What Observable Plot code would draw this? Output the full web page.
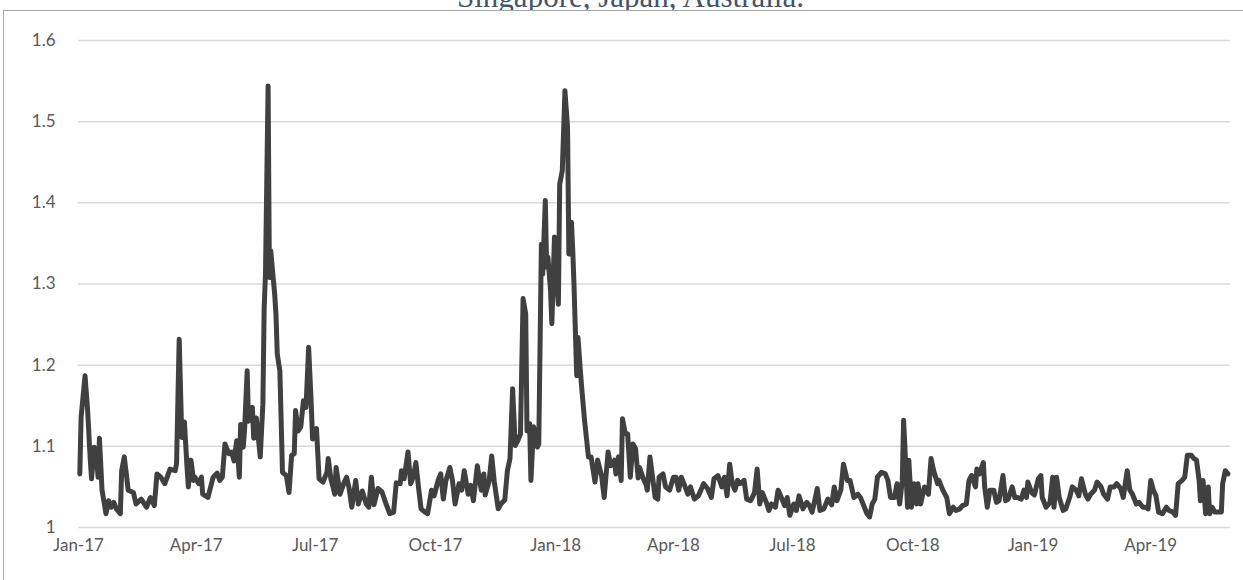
<!DOCTYPE html>
<html>
<head>
<meta charset="utf-8">
<script src="https://cdn.jsdelivr.net/npm/d3@7"></script>
<script src="https://cdn.jsdelivr.net/npm/@observablehq/plot@0.6"></script>
<style>
html,body{margin:0;padding:0;background:#fff;overflow:hidden;}
body{width:1243px;height:580px;position:relative;}
#title{position:absolute;left:9px;top:-19.5px;width:1243px;text-align:center;font-family:"Liberation Serif","Times New Roman",serif;font-size:31px;line-height:31px;color:#44546a;white-space:nowrap;z-index:0;}
#frame{position:absolute;left:3px;top:10px;width:1240px;height:570px;box-sizing:border-box;border-top:1px solid #a6a6a6;border-left:1px solid #a6a6a6;background:#fff;z-index:1;}
#frame svg{position:absolute;left:0;top:0;}
</style>
</head>
<body>
<div id="title">Singapore, Japan, Australia.</div>
<div id="frame"></div>
<script>
// days since 2017-01-01
const days = [1,2,5,7,9,10,12,14,15,16,
18,21,23,25,27,29,32,33,35,38,
42,44,48,52,55,58,60,63,66,70,
74,75,77,79,81,83,84,86,88,89,
92,94,95,99,103,106,108,110,112,115,
117,119,121,123,124,126,127,129,130,133,
134,136,139,141,142,143,145,146,147,150,
151,152,154,156,159,161,163,165,166,168,
170,172,174,176,178,179,182,184,187,190,
191,193,196,197,200,203,205,207,209,212,
214,217,220,222,224,226,229,232,235,238,
241,243,246,247,249,252,254,256,258,260,
262,265,267,270,272,275,277,279,281,284,
286,288,291,293,295,298,300,302,305,308,
310,311,314,316,318,321,323,326,328,330,
332,334,336,338,340,342,343,345,346,348,
349,351,352,354,355,357,358,359,361,362,
364,365,367,368,370,372,374,375,377,378,
379,381,382,384,385,387,390,392,395,397,
400,402,405,407,410,411,413,415,416,418,
420,422,424,426,428,429,432,434,435,437,
439,441,443,444,447,449,452,455,457,459,
461,463,466,468,471,474,476,478,481,484,
486,489,492,494,496,498,500,502,504,506,
509,511,514,517,519,521,523,526,528,530,
533,535,537,540,542,544,547,549,551,554,
557,559,561,563,565,567,570,573,576,578,
580,583,585,588,590,593,596,598,601,603,
605,607,609,611,614,617,619,621,624,626,
628,630,631,632,634,635,637,639,641,642,
644,647,650,652,654,657,658,661,664,666,
669,671,674,676,679,681,683,686,687,689,
692,693,695,697,700,702,704,707,709,711,
714,716,718,721,723,725,726,729,731,734,
736,737,740,743,745,746,748,750,753,755,
758,760,763,765,767,770,772,774,777,779,
782,784,787,789,792,794,797,799,802,804,
806,809,811,814,816,818,820,822,824,826,
829,832,834,837,839,841,844,846,848,851,
853,855,857,858,860,862,864,865,867,869,
872,874,875,877,879];

const values = [1.066,1.136,1.187,1.144,1.083,1.060,1.099,1.082,1.062,1.110,
1.046,1.017,1.033,1.025,1.031,1.023,1.017,1.070,1.087,1.046,
1.043,1.029,1.035,1.025,1.037,1.027,1.066,1.062,1.054,1.072,
1.070,1.079,1.232,1.111,1.130,1.074,1.050,1.083,1.058,1.062,
1.054,1.062,1.041,1.037,1.062,1.067,1.058,1.062,1.103,1.091,
1.093,1.082,1.107,1.062,1.127,1.099,1.120,1.193,1.131,1.148,
1.110,1.135,1.087,1.152,1.271,1.312,1.544,1.308,1.341,1.288,
1.263,1.214,1.193,1.068,1.064,1.043,1.089,1.091,1.144,1.119,
1.124,1.156,1.148,1.222,1.152,1.109,1.122,1.060,1.056,1.068,
1.085,1.060,1.041,1.074,1.041,1.055,1.062,1.048,1.025,1.058,
1.029,1.045,1.029,1.025,1.062,1.028,1.048,1.044,1.030,1.017,
1.019,1.055,1.054,1.070,1.060,1.093,1.054,1.062,1.080,1.050,
1.023,1.019,1.017,1.046,1.039,1.058,1.066,1.035,1.058,1.074,
1.058,1.029,1.054,1.046,1.070,1.041,1.052,1.033,1.076,1.046,
1.066,1.040,1.057,1.088,1.056,1.023,1.029,1.034,1.070,1.085,
1.171,1.101,1.107,1.115,1.282,1.263,1.119,1.128,1.058,1.124,
1.119,1.099,1.103,1.349,1.312,1.403,1.321,1.333,1.292,1.251,
1.358,1.317,1.275,1.423,1.440,1.538,1.493,1.337,1.376,1.341,
1.296,1.187,1.234,1.189,1.169,1.132,1.087,1.087,1.056,1.083,
1.064,1.037,1.093,1.076,1.083,1.066,1.087,1.058,1.134,1.117,
1.115,1.062,1.103,1.097,1.061,1.074,1.060,1.053,1.046,1.087,
1.062,1.037,1.035,1.062,1.066,1.050,1.046,1.062,1.062,1.046,
1.062,1.054,1.041,1.050,1.035,1.039,1.046,1.054,1.048,1.037,
1.060,1.064,1.050,1.062,1.039,1.078,1.054,1.046,1.058,1.054,
1.058,1.035,1.033,1.043,1.072,1.029,1.043,1.031,1.021,1.029,
1.025,1.046,1.039,1.027,1.037,1.015,1.029,1.021,1.039,1.023,
1.031,1.027,1.019,1.033,1.048,1.021,1.023,1.035,1.028,1.050,
1.033,1.046,1.078,1.058,1.058,1.037,1.041,1.037,1.025,1.017,
1.013,1.029,1.035,1.062,1.068,1.066,1.058,1.037,1.037,1.054,
1.029,1.058,1.132,1.099,1.025,1.083,1.025,1.054,1.029,1.054,
1.029,1.050,1.041,1.085,1.070,1.054,1.058,1.046,1.037,1.017,
1.025,1.021,1.023,1.027,1.029,1.058,1.064,1.050,1.072,1.066,
1.080,1.050,1.025,1.046,1.046,1.031,1.033,1.064,1.033,1.035,
1.050,1.037,1.037,1.035,1.046,1.037,1.056,1.043,1.040,1.060,
1.064,1.037,1.025,1.031,1.062,1.025,1.062,1.037,1.021,1.023,
1.037,1.050,1.046,1.039,1.060,1.041,1.035,1.041,1.046,1.056,
1.050,1.041,1.035,1.050,1.050,1.054,1.048,1.037,1.070,1.046,
1.041,1.029,1.031,1.025,1.025,1.023,1.058,1.046,1.039,1.019,
1.017,1.025,1.021,1.019,1.015,1.054,1.058,1.062,1.089,1.089,
1.085,1.083,1.058,1.033,1.058,1.017,1.050,1.017,1.025,1.019,
1.019,1.019,1.054,1.070,1.066];

const xTickDates = ["2017-01-01","2017-04-01","2017-07-01","2017-10-01","2018-01-01",
  "2018-04-01","2018-07-01","2018-10-01","2019-01-01","2019-04-01"];
const yTicks = [1, 1.1, 1.2, 1.3, 1.4, 1.5, 1.6];
const title = "Singapore, Japan, Australia.";

const start = Date.UTC(2017, 0, 1);
const DAY = 86400000;
const data = days.map((d, i) => ({date: new Date(start + d * DAY), value: values[i]}));
const xTicks = xTickDates.map(s => new Date(s + "T00:00:00Z"));

const chart = Plot.plot({
  width: 1239,
  height: 569,
  marginTop: 29,
  marginBottom: 53,
  marginLeft: 74,
  marginRight: 13,
  style: {fontFamily: "Lato, 'Open Sans', sans-serif", fontSize: "17px", color: "#595959", background: "transparent", overflow: "visible"},
  x: {type: "utc", domain: [new Date(start), new Date(Date.UTC(2019, 5, 1))]},
  y: {domain: [1, 1.6]},
  marks: [
    Plot.ruleY(yTicks, {stroke: "#d9d9d9", strokeWidth: 1.5}),
    Plot.axisX({ticks: xTicks, tickFormat: d3.utcFormat("%b-%y"), tickSize: 0, tickPadding: 11, label: null, fill: "#595959"}),
    Plot.axisY({ticks: yTicks, tickFormat: d => (d === 1 ? "1" : d.toFixed(1)), tickSize: 0, tickPadding: 23, label: null, fill: "#595959"}),
    Plot.line(data, {x: "date", y: "value", stroke: "#404040", strokeWidth: 5, strokeLinejoin: "round", strokeLinecap: "round"})
  ]
});
document.getElementById("frame").appendChild(chart);
document.getElementById("title").textContent = title;
</script>
</body>
</html>
